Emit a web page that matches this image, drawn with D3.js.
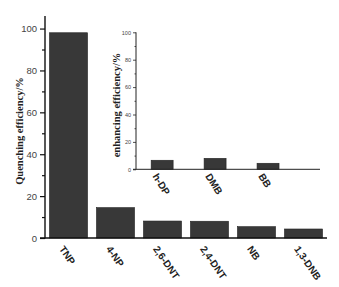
<!DOCTYPE html>
<html><head><meta charset="utf-8">
<script src="https://cdn.jsdelivr.net/npm/d3@7"></script>
<style>body{margin:0;background:#fff}</style>
</head><body>
<svg id="c" width="339" height="287"></svg>
<script>
const categories = ["TNP","4-NP","2,6-DNT","2,4-DNT","NB","1,3-DNB"];
const quenching = [98, 14.5, 8.1, 8.0, 5.4, 4.3];
const insetCategories = ["h-DP","DMB","BB"];
const enhancing = [6.6, 8.0, 4.4];
const mainTicks = [0,20,40,60,80,100];
const insetTicks = [0,20,40,60,80,100];

const svg = d3.select("#c");
const barFill = "#383838", barStroke = "#222";

// Main chart
const x = d3.scaleBand().domain(categories).range([45,327]).paddingInner(0.19).paddingOuter(0.095);
const y = d3.scaleLinear().domain([0,106]).range([238,16]);

svg.append("g").selectAll("rect").data(quenching).join("rect")
  .attr("x",(d,i)=>x(categories[i])).attr("width",x.bandwidth())
  .attr("y",d=>y(d)).attr("height",d=>y(0)-y(d))
  .attr("fill",barFill).attr("stroke",barStroke).attr("stroke-width",0.6);

const yAxis = svg.append("g").attr("transform","translate(45,0)")
  .call(d3.axisLeft(y).tickValues(mainTicks).tickSize(5).tickPadding(3).tickFormat(d3.format("d")));
yAxis.select(".domain").remove();
yAxis.selectAll("text").attr("font-family","Arial, Liberation Sans, sans-serif").attr("font-size",9.5).attr("fill","#444");
yAxis.selectAll("line").attr("stroke","#111").attr("stroke-width",1.2);
svg.append("g").attr("transform","translate(45,0)")
  .call(d3.axisLeft(y).tickValues([10,30,50,70,90]).tickSize(3).tickFormat(""))
  .call(g=>g.select(".domain").remove())
  .selectAll("line").attr("stroke","#111").attr("stroke-width",1.2);
svg.append("line").attr("x1",45).attr("x2",45).attr("y1",y(106)).attr("y2",y(0)+0.5).attr("stroke","#111").attr("stroke-width",1.4);
svg.append("line").attr("x1",40).attr("x2",327).attr("y1",y(0)).attr("y2",y(0)).attr("stroke","#111").attr("stroke-width",1.4);

svg.append("g").selectAll("text").data(categories).join("text")
  .attr("transform",d=>`translate(${x(d)+x.bandwidth()/2-7},${y(0)+9}) rotate(55)`)
  .attr("font-family","Arial, Liberation Sans, sans-serif").attr("font-weight","bold").attr("font-size",10)
  .attr("dy","0.35em").attr("fill","#222").text(d=>d);

svg.append("text").attr("transform","translate(23,131) rotate(-90)").attr("text-anchor","middle")
  .attr("font-family","Liberation Serif, Times New Roman, serif").attr("font-weight","bold").attr("font-size",10.5)
  .attr("fill","#222").text("Quenching efficiency/%");

// Inset chart
const xi = d3.scaleBand().domain(insetCategories).range([136,320]).paddingInner(0.585).paddingOuter(0.53).align(0.27);
const yi = d3.scaleLinear().domain([0,100]).range([169.3,32.3]);

svg.append("g").selectAll("rect").data(enhancing).join("rect")
  .attr("x",(d,i)=>xi(insetCategories[i])).attr("width",xi.bandwidth())
  .attr("y",d=>yi(d)).attr("height",d=>yi(0)-yi(d))
  .attr("fill",barFill).attr("stroke",barStroke).attr("stroke-width",0.6);

const yiAxis = svg.append("g").attr("transform","translate(136,0)")
  .call(d3.axisLeft(yi).tickValues(insetTicks).tickSize(3).tickPadding(2).tickFormat(d3.format("d")));
yiAxis.select(".domain").remove();
yiAxis.selectAll("text").attr("font-family","Arial, Liberation Sans, sans-serif").attr("font-size",5.5).attr("fill","#444");
yiAxis.selectAll("line").attr("stroke","#222").attr("stroke-width",0.8);
svg.append("g").attr("transform","translate(136,0)")
  .call(d3.axisLeft(yi).tickValues([10,30,50,70,90]).tickSize(1.5).tickFormat(""))
  .call(g=>g.select(".domain").remove())
  .selectAll("line").attr("stroke","#222").attr("stroke-width",0.8);
svg.append("line").attr("x1",136).attr("x2",136).attr("y1",yi(100)).attr("y2",yi(0)).attr("stroke","#222").attr("stroke-width",1);
svg.append("line").attr("x1",133).attr("x2",320).attr("y1",yi(0)).attr("y2",yi(0)).attr("stroke","#222").attr("stroke-width",1);

svg.append("g").selectAll("text").data(insetCategories).join("text")
  .attr("transform",d=>`translate(${xi(d)+xi.bandwidth()/2-7},${yi(0)+5}) rotate(58)`)
  .attr("font-family","Arial, Liberation Sans, sans-serif").attr("font-weight","bold").attr("font-size",10)
  .attr("dy","0.35em").attr("fill","#222").text(d=>d);

svg.append("text").attr("transform","translate(120,105) rotate(-90)").attr("text-anchor","middle")
  .attr("font-family","Liberation Serif, Times New Roman, serif").attr("font-weight","bold").attr("font-size",10.5)
  .attr("fill","#222").text("enhancing efficiency/%");
</script>
</body></html>
